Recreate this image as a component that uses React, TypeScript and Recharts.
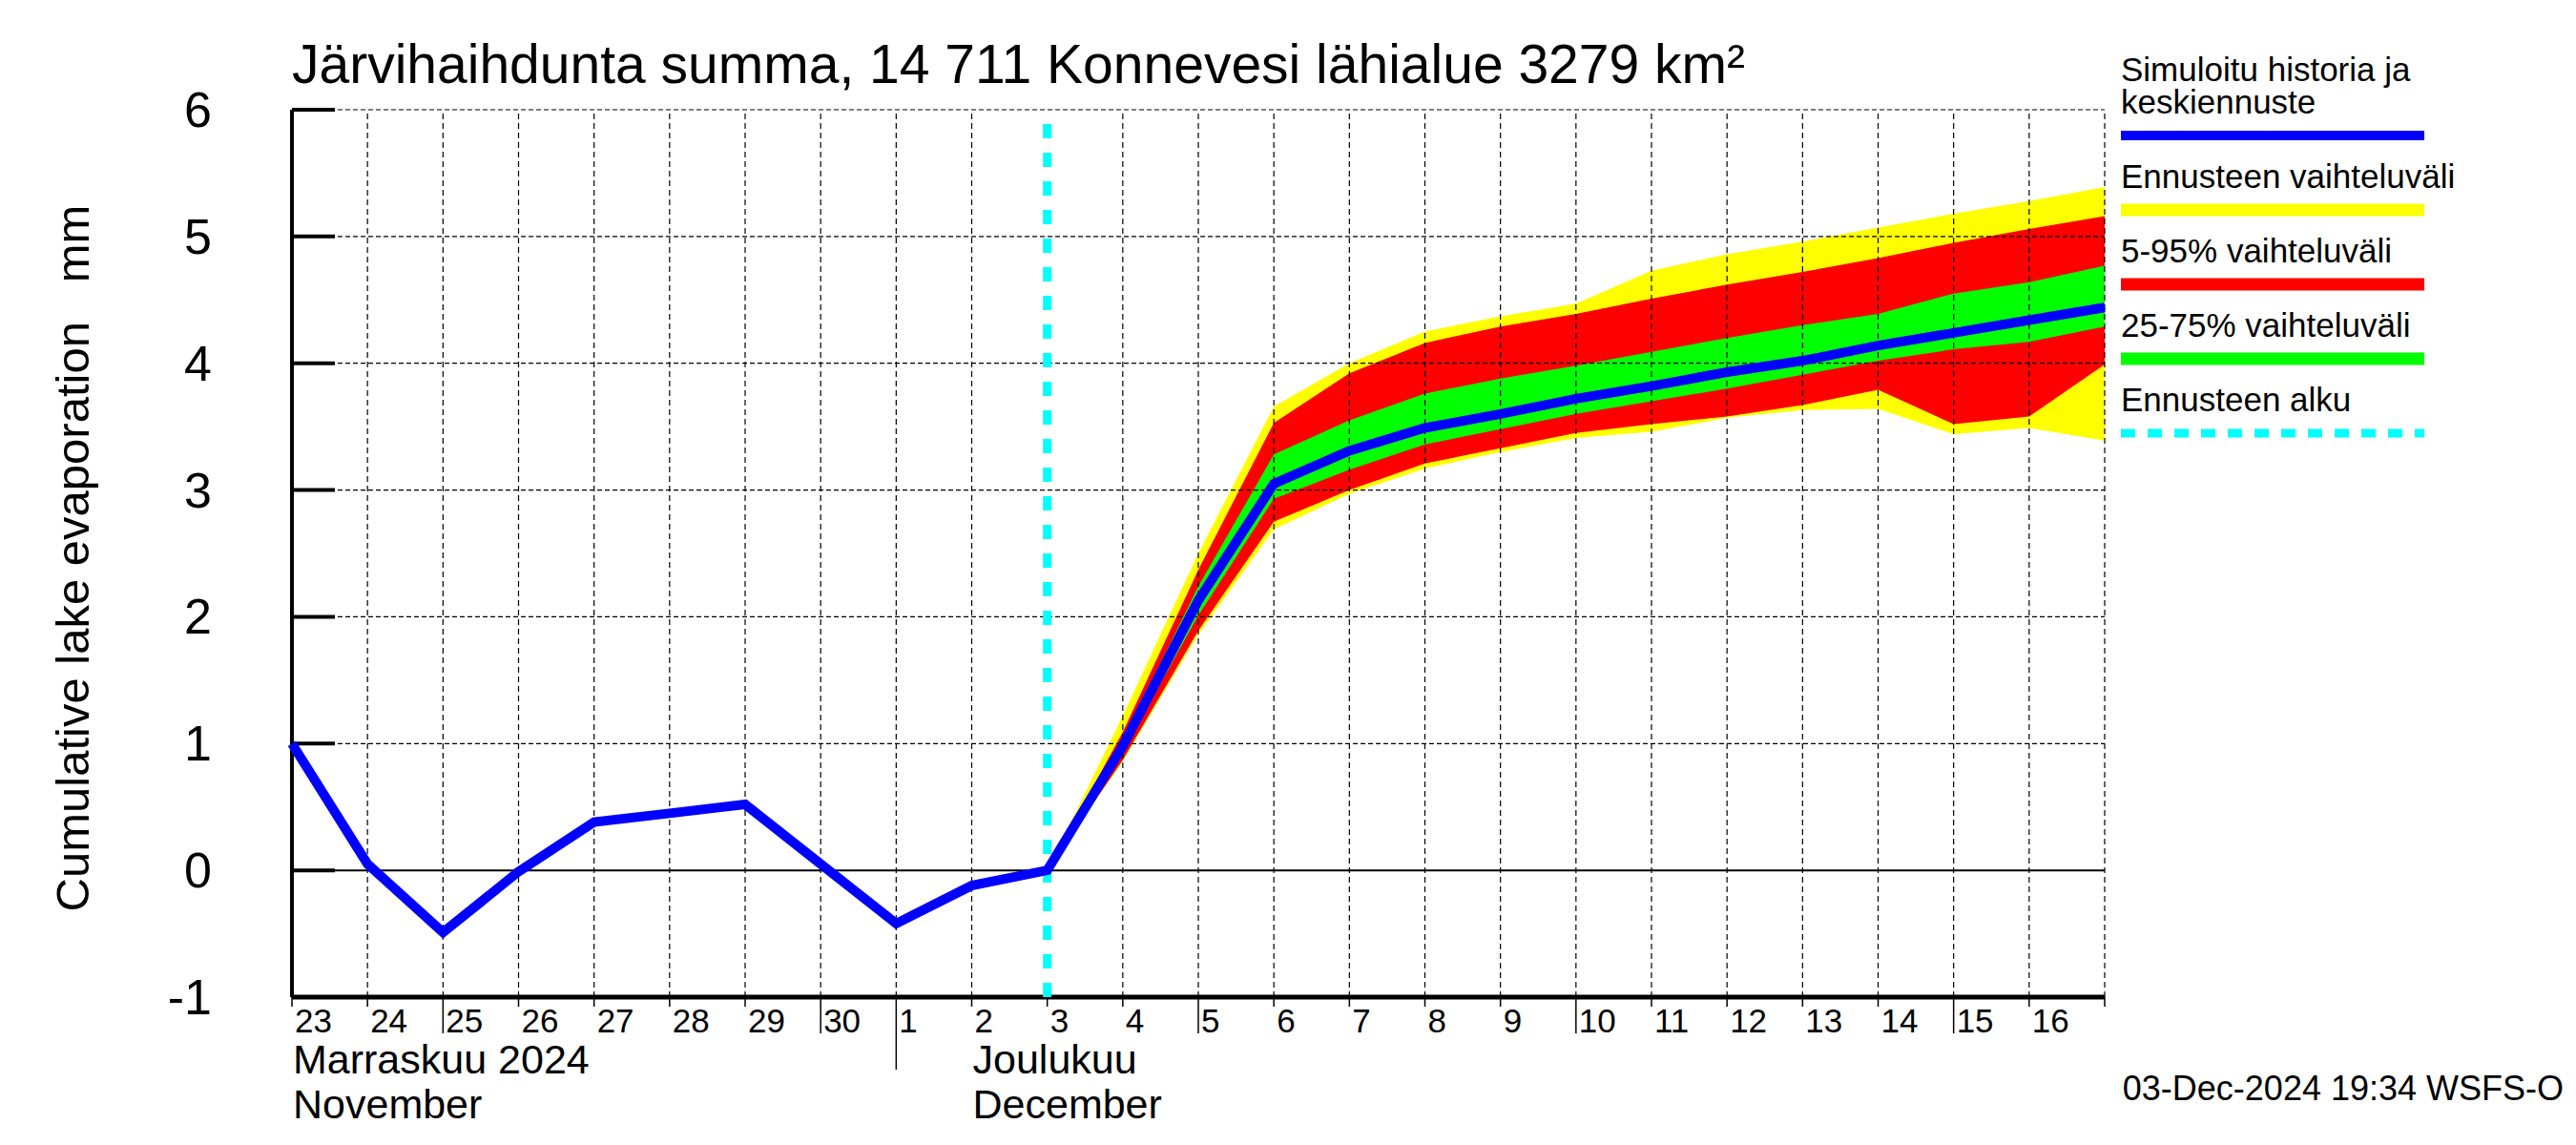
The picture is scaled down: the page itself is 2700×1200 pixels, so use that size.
import { Area, ComposedChart, Legend, Line, ReferenceLine, XAxis, YAxis } from "recharts"

// x axis: day index 0 = 23 Nov 2024 ... 24 = 17 Dec 2024
const xTicks = [0, 1, 2, 3, 4, 5, 6, 7, 8, 9, 10, 11, 12, 13, 14, 15, 16, 17, 18, 19, 20, 21, 22, 23, 24]
const dayLabels = ["23", "24", "25", "26", "27", "28", "29", "30", "1", "2", "3", "4", "5", "6", "7", "8", "9", "10", "11", "12", "13", "14", "15", "16"]
const yTicks = [-1, 0, 1, 2, 3, 4, 5, 6]
const monthStart = 8
const monthLabels = [
	{ at: 0, lines: ["Marraskuu 2024", "November"] },
	{ at: 9, lines: ["Joulukuu", "December"] },
]

// simulated history 23 Nov .. 3 Dec
const historyValues = [1.0, 0.05, -0.49, -0.01, 0.38, 0.45, 0.52, 0.05, -0.42, -0.12, 0.0]

// forecast 3 Dec .. 17 Dec
const forecastStart = 10
const medianForecast = [0.0, 0.98, 2.13, 3.05, 3.31, 3.49, 3.6, 3.72, 3.82, 3.93, 4.02, 4.14, 4.24, 4.34, 4.44]
const minForecast = [0.0, 0.86, 1.86, 2.69, 2.97, 3.17, 3.3, 3.41, 3.46, 3.57, 3.63, 3.64, 3.44, 3.49, 3.39]
const maxForecast = [0.0, 1.22, 2.5, 3.66, 4.0, 4.25, 4.37, 4.47, 4.73, 4.86, 4.96, 5.07, 5.18, 5.28, 5.39]
const p05Forecast = [0.0, 0.87, 1.89, 2.75, 3.0, 3.21, 3.33, 3.45, 3.52, 3.58, 3.67, 3.79, 3.52, 3.58, 3.99]
const p95Forecast = [0.0, 1.09, 2.37, 3.53, 3.92, 4.16, 4.29, 4.39, 4.51, 4.62, 4.72, 4.83, 4.95, 5.06, 5.16]
const p25Forecast = [0.0, 0.94, 2.01, 2.93, 3.16, 3.36, 3.48, 3.6, 3.7, 3.8, 3.91, 4.02, 4.11, 4.17, 4.29]
const p75Forecast = [0.0, 1.03, 2.24, 3.28, 3.55, 3.76, 3.88, 3.98, 4.09, 4.2, 4.3, 4.39, 4.55, 4.64, 4.77]

const legendItems = [
	{ lines: ["Simuloitu historia ja", "keskiennuste"], color: "#0000ff", width: 10, dash: undefined },
	{ lines: ["Ennusteen vaihteluväli"], color: "#ffff00", width: 13, dash: undefined },
	{ lines: ["5-95% vaihteluväli"], color: "#ff0000", width: 13, dash: undefined },
	{ lines: ["25-75% vaihteluväli"], color: "#00ff00", width: 13, dash: undefined },
	{ lines: ["Ennusteen alku"], color: "#00ffff", width: 9, dash: "15 13" },
]

const FONT = "'Liberation Sans', Arial, Helvetica, sans-serif"
const W = 2700
const H = 1200
const PLOT = { top: 115, right: 494, bottom: 155, left: 306 }

const rows = xTicks.map((day) => {
	const f = day - forecastStart
	const inForecast = f >= 0
	return {
		day,
		median: inForecast ? medianForecast[f] : historyValues[day],
		total: inForecast ? [minForecast[f], maxForecast[f]] : null,
		p90: inForecast ? [p05Forecast[f], p95Forecast[f]] : null,
		p50: inForecast ? [p25Forecast[f], p75Forecast[f]] : null,
	}
})

function YTick(props: any) {
	const { x, y, payload } = props
	return (
		<g>
			<line x1={x} x2={x + 45} y1={y} y2={y} stroke="#000" strokeWidth={4} />
			<text x={x - 84} y={y} textAnchor="end" dominantBaseline="central" fontSize={52} fontFamily={FONT} fill="#000">
				{payload.value}
			</text>
		</g>
	)
}

function XTick(props: any) {
	const { x, y, payload } = props
	const i = payload.value as number
	const label = dayLabels[i]
	const dayNum = label ? Number(label) : 0
	let len = 10
	if (i === monthStart) len = 76
	else if (label && dayNum % 5 === 0) len = 38
	const month = monthLabels.find((m) => m.at === i)
	return (
		<g>
			<line x1={x} x2={x} y1={y} y2={y + len} stroke="#000" strokeWidth={1.5} />
			{label && (
				<text x={x + 3} y={y + 24} dominantBaseline="central" fontSize={35} fontFamily={FONT} fill="#000">
					{label}
				</text>
			)}
			{month &&
				month.lines.map((line, k) => (
					<text key={line} x={x + 1} y={y + 80 + k * 47} fontSize={43} fontFamily={FONT} fill="#000">
						{line}
					</text>
				))}
		</g>
	)
}

function LegendBox() {
	let base = 85
	const parts: any[] = []
	legendItems.forEach((item, idx) => {
		item.lines.forEach((line, k) => {
			parts.push(
				<text key={`t${idx}-${k}`} x={0} y={base + k * 34} fontSize={35} fontFamily={FONT} fill="#000">
					{line}
				</text>,
			)
		})
		const swatchY = base + (item.lines.length - 1) * 34 + 23
		parts.push(
			<line
				key={`l${idx}`}
				x1={0}
				x2={318}
				y1={swatchY}
				y2={swatchY}
				stroke={item.color}
				strokeWidth={item.width}
				strokeDasharray={item.dash}
			/>,
		)
		base = swatchY + 55
	})
	return (
		<svg width={470} height={480} style={{ display: "block" }}>
			{parts}
		</svg>
	)
}

export default function App() {
	return (
		<div style={{ position: "absolute", left: 0, top: 0, width: W, height: H, background: "#fff" }}>
			{/* base layer: axes, bands, legend */}
			<div style={{ position: "absolute", left: 0, top: 0 }}>
				<ComposedChart
					width={W}
					height={H}
					data={rows}
					margin={{ top: PLOT.top, right: PLOT.right, bottom: 5, left: PLOT.left - 200 }}
				>
					<XAxis
						dataKey="day"
						type="number"
						domain={[0, 24]}
						ticks={xTicks}
						interval={0}
						height={150}
						tickSize={0}
						tickMargin={0}
						tickLine={false}
						axisLine={{ stroke: "#000", strokeWidth: 5 }}
						tick={<XTick />}
					/>
					<YAxis
						type="number"
						domain={[-1, 6]}
						ticks={yTicks}
						interval={0}
						width={200}
						tickSize={0}
						tickMargin={0}
						tickLine={false}
						axisLine={{ stroke: "#000", strokeWidth: 4 }}
						tick={<YTick />}
					/>
					<Area dataKey="total" type="linear" stroke="none" fill="#ffff00" fillOpacity={1} isAnimationActive={false} />
					<Area dataKey="p90" type="linear" stroke="none" fill="#ff0000" fillOpacity={1} isAnimationActive={false} />
					<Area dataKey="p50" type="linear" stroke="none" fill="#00ff00" fillOpacity={1} isAnimationActive={false} />
					<Legend
						layout="vertical"
						align="center"
						verticalAlign="middle"
						wrapperStyle={{ left: 2223, top: 0, width: 470, height: 480 }}
						content={() => <LegendBox />}
					/>
				</ComposedChart>
			</div>
			{/* top layer: grid over the bands, forecast start, median line */}
			<div style={{ position: "absolute", left: 0, top: 0, pointerEvents: "none" }}>
				<ComposedChart width={W} height={H} data={rows} margin={PLOT}>
					<XAxis dataKey="day" type="number" domain={[0, 24]} ticks={xTicks} hide />
					<YAxis type="number" domain={[-1, 6]} ticks={yTicks} hide />
					{yTicks
						.filter((v) => v !== 0 && v !== -1)
						.map((v) => (
							<ReferenceLine key={`h${v}`} y={v} stroke="#000" strokeWidth={1.2} strokeDasharray="5 3" />
						))}
					{xTicks
						.filter((v) => v !== 0 && v !== forecastStart)
						.map((v) => (
							<ReferenceLine key={`v${v}`} x={v} stroke="#000" strokeWidth={1.2} strokeDasharray="6 4" />
						))}
					<ReferenceLine y={0} stroke="#000" strokeWidth={2} />
					<ReferenceLine x={forecastStart} stroke="#00ffff" strokeWidth={9} strokeDasharray="15 15" />
					<Line
						dataKey="median"
						type="linear"
						stroke="#0000ff"
						strokeWidth={10}
						dot={false}
						activeDot={false}
						isAnimationActive={false}
					/>
				</ComposedChart>
			</div>
			<svg width={W} height={H} style={{ position: "absolute", left: 0, top: 0, pointerEvents: "none" }}>
				<text x={306} y={87} fontSize={57} fontFamily={FONT} fill="#000">
					Järvihaihdunta summa, 14 711 Konnevesi lähialue 3279 km²
				</text>
				<text
					x={93}
					y={585}
					fontSize={49}
					fontFamily={FONT}
					fill="#000"
					textAnchor="middle"
					transform="rotate(-90 93 585)"
					style={{ whiteSpace: "pre" }}
				>
					{"Cumulative lake evaporation   mm"}
				</text>
				<text x={2687} y={1153} fontSize={36} fontFamily={FONT} fill="#000" textAnchor="end">
					03-Dec-2024 19:34 WSFS-O
				</text>
			</svg>
		</div>
	)
}
